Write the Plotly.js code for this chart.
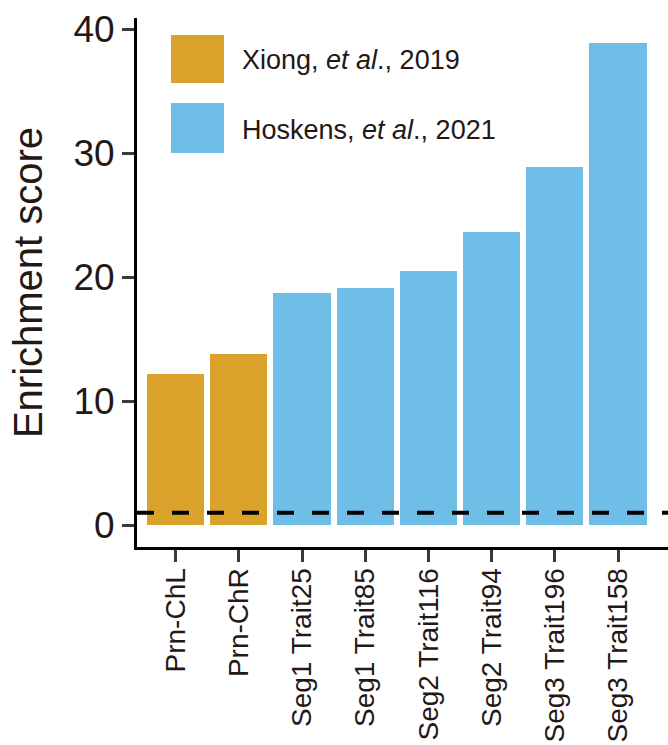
<!DOCTYPE html>
<html>
<head>
<meta charset="utf-8">
<script src="https://cdn.plot.ly/plotly-3.0.1.min.js"></script>
<style>html,body{margin:0;padding:0;background:#fff;}#chart{width:668px;height:745px;}</style>
</head>
<body>
<div id="chart"></div>
<script>
// ---- data ----
const categories = ["Prn-ChL", "Prn-ChR", "Seg1 Trait25", "Seg1 Trait85", "Seg2 Trait116", "Seg2 Trait94", "Seg3 Trait196", "Seg3 Trait158"];
const xiongCats = ["Prn-ChL", "Prn-ChR"];
const xiongValues = [12.2, 13.8];
const hoskensCats = ["Seg1 Trait25", "Seg1 Trait85", "Seg2 Trait116", "Seg2 Trait94", "Seg3 Trait196", "Seg3 Trait158"];
const hoskensValues = [18.7, 19.1, 20.45, 23.6, 28.9, 38.9];
const thresholdValue = 1;
const yTickVals = [0, 10, 20, 30, 40];
const legendLabels = ["Xiong, <i>et al</i>., 2019", "Hoskens, <i>et al</i>., 2021"];

// ---- styling ----
const ORANGE = "#DAA22B";
const BLUE = "#6FBEE8";
const TXT = "#231815";
const FONT = "Liberation Sans, Arial, sans-serif";

const W = 668, H = 745;
const M = {l: 137, r: 0, t: 18, b: 198};
const pw = W - M.l - M.r, ph = H - M.t - M.b;
const px = x => (x - M.l) / pw;
const py = y => (H - M.b - y) / ph;

const traces = [
  {type: "bar", x: xiongCats, y: xiongValues, marker: {color: ORANGE}, width: 0.905, showlegend: false, hoverinfo: "x+y"},
  {type: "bar", x: hoskensCats, y: hoskensValues, marker: {color: BLUE}, width: 0.905, showlegend: false, hoverinfo: "x+y"}
];

const shapes = [
  {type: "line", xref: "paper", yref: "y", x0: 0, x1: 1, y0: thresholdValue, y1: thresholdValue,
   line: {color: "#000", width: 4, dash: "17px,18px"}},
  {type: "rect", xref: "paper", yref: "paper", x0: px(171), x1: px(224), y0: py(83), y1: py(35),
   fillcolor: ORANGE, line: {width: 0}},
  {type: "rect", xref: "paper", yref: "paper", x0: px(171), x1: px(224), y0: py(153), y1: py(103),
   fillcolor: BLUE, line: {width: 0}}
];

const annotations = [
  {xref: "paper", yref: "paper", x: px(240), y: py(60), xanchor: "left", yanchor: "middle",
   text: legendLabels[0], showarrow: false, font: {family: FONT, size: 27, color: TXT}},
  {xref: "paper", yref: "paper", x: px(240), y: py(130), xanchor: "left", yanchor: "middle",
   text: legendLabels[1], showarrow: false, font: {family: FONT, size: 27, color: TXT}}
];

const layout = {
  width: W, height: H,
  margin: M,
  paper_bgcolor: "#fff", plot_bgcolor: "#fff",
  font: {family: FONT, color: TXT},
  bargap: 0,
  xaxis: {
    type: "category", categoryorder: "array", categoryarray: categories,
    range: [-0.612, 7.79],
    showline: true, linecolor: "#000", linewidth: 3,
    ticks: "outside", ticklen: 12, tickwidth: 3, tickcolor: "#3a3a3a",
    tickangle: -90, ticklabelstandoff: -5,
    tickfont: {family: FONT, size: 28, color: TXT},
    showgrid: false, zeroline: false, fixedrange: true
  },
  yaxis: {
    range: [-1.77, 40.89],
    tickvals: yTickVals, ticktext: yTickVals.map(String),
    showline: true, linecolor: "#000", linewidth: 3,
    ticks: "outside", ticklen: 12, tickwidth: 3, tickcolor: "#3a3a3a",
    ticklabelstandoff: 0,
    tickfont: {family: FONT, size: 37, color: TXT},
    showgrid: false, zeroline: false, fixedrange: true,
    title: {text: "Enrichment score", font: {family: FONT, size: 40, color: TXT}, standoff: 19}
  },
  shapes: shapes,
  annotations: annotations
};

Plotly.newPlot("chart", traces, layout, {displayModeBar: false, staticPlot: true});
</script>
</body>
</html>
